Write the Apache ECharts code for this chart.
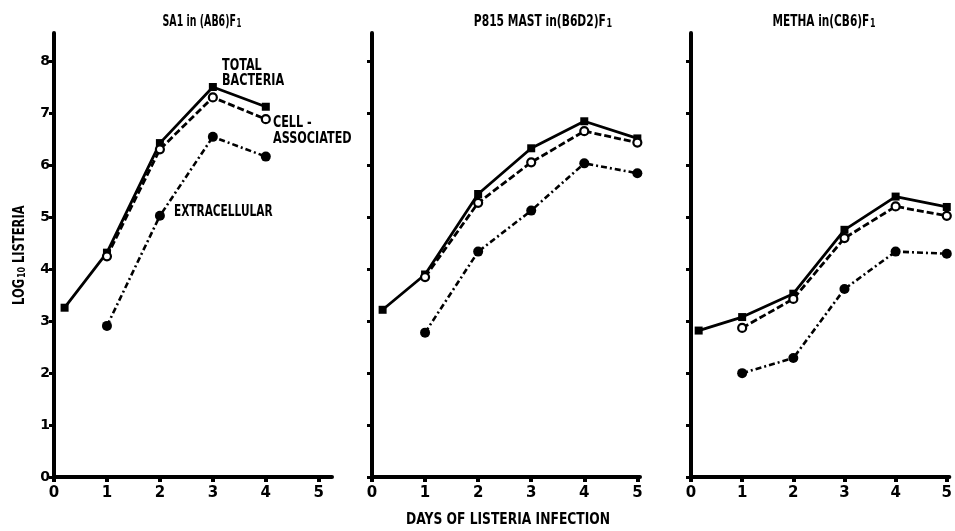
<!DOCTYPE html>
<html>
<head>
<meta charset="utf-8">
<script src="https://cdn.jsdelivr.net/npm/echarts@6/dist/echarts.min.js"></script>
<style>
  html, body { margin: 0; padding: 0; background: #fff; }
  #chart { width: 955px; height: 531px; }
</style>
</head>
<body>
<div id="chart"></div>
<script>
// Log10 Listeria counts per tumour model, by day of infection
const panelTitles = ['SA1 in (AB6)F', 'P815 MAST in(B6D2)F', 'METHA in(CB6)F'];

// SA1 in (AB6)F1
const sa1TotalDays = [0.2, 1, 2, 3, 4];
const sa1Total = [3.26, 4.32, 6.43, 7.51, 7.13];
const sa1CellDays = [1, 2, 3, 4];
const sa1Cell = [4.25, 6.31, 7.31, 6.89];
const sa1ExtraDays = [1, 2, 3, 4];
const sa1Extra = [2.91, 5.03, 6.55, 6.17];

// P815 MAST in (B6D2)F1
const p815TotalDays = [0.2, 1, 2, 3, 4, 5];
const p815Total = [3.22, 3.90, 5.45, 6.33, 6.85, 6.52];
const p815CellDays = [1, 2, 3, 4, 5];
const p815Cell = [3.85, 5.28, 6.06, 6.66, 6.44];
const p815ExtraDays = [1, 2, 3, 4, 5];
const p815Extra = [2.78, 4.34, 5.13, 6.04, 5.85];

// METHA in (CB6)F1
const methaTotalDays = [0.15, 1, 2, 3, 4, 5];
const methaTotal = [2.82, 3.08, 3.53, 4.76, 5.40, 5.20];
const methaCellDays = [1, 2, 3, 4, 5];
const methaCell = [2.87, 3.43, 4.60, 5.21, 5.03];
const methaExtraDays = [1, 2, 3, 4, 5];
const methaExtra = [2.00, 2.29, 3.62, 4.34, 4.30];

const xTicks = [0, 1, 2, 3, 4, 5];
const yTicks = [0, 1, 2, 3, 4, 5, 6, 7, 8];

const FONT = '"DejaVu Sans", sans-serif';
// condensed look: narrow the bold face horizontally
const NARROW = 0.7;

const pair = (xs, ys) => xs.map((x, i) => [x, ys[i]]);

const panels = [
  { total: pair(sa1TotalDays, sa1Total), cell: pair(sa1CellDays, sa1Cell), extra: pair(sa1ExtraDays, sa1Extra) },
  { total: pair(p815TotalDays, p815Total), cell: pair(p815CellDays, p815Cell), extra: pair(p815ExtraDays, p815Extra) },
  { total: pair(methaTotalDays, methaTotal), cell: pair(methaCellDays, methaCell), extra: pair(methaExtraDays, methaExtra) }
];

const grids = [
  { left: 54, top: 33, width: 278, height: 444 },
  { left: 372, top: 33, width: 268, height: 444 },
  { left: 691, top: 33, width: 264, height: 444 }
];
const xMax = [5.25, 5.05, 5.05];

const axisLine = { show: true, lineStyle: { color: '#000', width: 4 } };
const labelStyle = { color: '#000', fontFamily: FONT, fontWeight: 'bold', fontSize: 14 };

const xAxes = grids.map((g, i) => ({
  type: 'value', gridIndex: i, min: 0, max: xMax[i],
  axisLine: axisLine,
  splitLine: { show: false },
  axisTick: { show: true, length: 5, customValues: xTicks, lineStyle: { color: '#000', width: 4 } },
  axisLabel: Object.assign({ customValues: xTicks, margin: 9 }, labelStyle, { fontSize: 15 })
}));

const yAxes = grids.map((g, i) => ({
  type: 'value', gridIndex: i, min: 0, max: 8.55,
  axisLine: axisLine,
  splitLine: { show: false },
  axisTick: { show: true, length: 5, customValues: yTicks, lineStyle: { color: '#000', width: 3 } },
  axisLabel: Object.assign({ show: i === 0, customValues: yTicks, margin: 4 }, labelStyle)
}));

const series = [];
panels.forEach((p, i) => {
  series.push({
    name: 'Total bacteria', type: 'line', xAxisIndex: i, yAxisIndex: i,
    data: p.total, symbol: 'rect', symbolSize: 8,
    itemStyle: { color: '#000' },
    lineStyle: { color: '#000', width: 2.8, type: 'solid' },
    z: 3
  });
  series.push({
    name: 'Cell-associated', type: 'line', xAxisIndex: i, yAxisIndex: i,
    data: p.cell, symbol: 'circle', symbolSize: 8,
    itemStyle: { color: '#fff', borderColor: '#000', borderWidth: 2.2 },
    lineStyle: { color: '#000', width: 2.8, type: [7, 3] },
    z: 4
  });
  series.push({
    name: 'Extracellular', type: 'line', xAxisIndex: i, yAxisIndex: i,
    data: p.extra, symbol: 'circle', symbolSize: 10,
    itemStyle: { color: '#000' },
    lineStyle: { color: '#000', width: 2.6, type: [6, 3, 2, 3] },
    z: 3
  });
});

// bold narrow text block
function label(text, x, y, opts) {
  opts = opts || {};
  const size = opts.fontSize || 16;
  return {
    type: 'text', x: x, y: y, scaleX: opts.scaleX || NARROW, rotation: opts.rotation || 0, z: 10,
    style: {
      text: text, fill: '#000',
      font: 'bold ' + size + 'px ' + FONT,
      fontFamily: FONT, fontWeight: 'bold', fontSize: size,
      lineHeight: opts.lineHeight || 15,
      align: opts.align || 'left', verticalAlign: 'top',
      rich: opts.rich
    }
  };
}

// main text plus a lowered, smaller index
function richWithSub(mainSize, subSize, lh) {
  return {
    m: { font: 'bold ' + mainSize + 'px ' + FONT, fontFamily: FONT, fontWeight: 'bold', fontSize: mainSize, fill: '#000', lineHeight: lh, verticalAlign: 'bottom' },
    sub: { font: 'bold ' + subSize + 'px ' + FONT, fontFamily: FONT, fontWeight: 'bold', fontSize: subSize, fill: '#000', lineHeight: lh, verticalAlign: 'bottom', padding: [0, 0, 0, 1] }
  };
}

const titleCenters = [202, 543, 824];
const titleScale = [0.59, 0.67, 0.66];
const titleTexts = panelTitles.map((t, i) =>
  label('{m|' + t + '}{sub|1}', titleCenters[i], 10, {
    fontSize: 16, align: 'center', lineHeight: 20, scaleX: titleScale[i], rich: richWithSub(16, 12, 20)
  }));

const chart = echarts.init(document.getElementById('chart'), null, { renderer: 'canvas' });
chart.setOption({
  backgroundColor: '#fff',
  animation: false,
  grid: grids,
  xAxis: xAxes,
  yAxis: yAxes,
  series: series,
  graphic: titleTexts.concat([
    label('TOTAL\nBACTERIA', 222, 58),
    label('CELL -\nASSOCIATED', 273, 115, { lineHeight: 16 }),
    label('EXTRACELLULAR', 174, 204, { scaleX: 0.66 }),
    label('DAYS OF LISTERIA INFECTION', 508, 513, { fontSize: 15, scaleX: 0.82, align: 'center' }),
    label('{m|LOG}{sub|10}{m| LISTERIA}', 10, 305, {
      rotation: Math.PI / 2, scaleX: 0.72, lineHeight: 18,
      rich: richWithSub(16, 11, 18)
    })
  ])
});
</script>
</body>
</html>
